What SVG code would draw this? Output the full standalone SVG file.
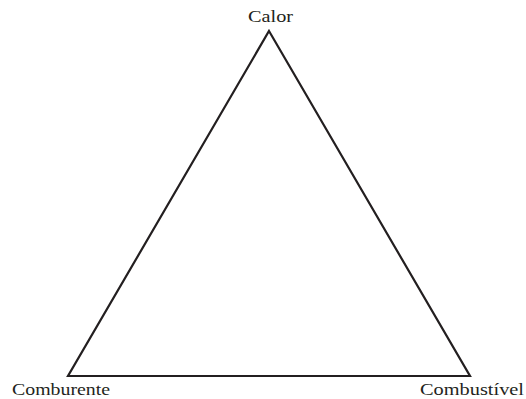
<svg xmlns="http://www.w3.org/2000/svg" width="526" height="399" viewBox="0 0 526 399">
<style>
.lbl{font-family:"Liberation Serif","DejaVu Serif",serif;font-size:16px;fill:#231f20}
.edge{fill:none;stroke:#231f20;stroke-width:2.2;stroke-linejoin:miter}
</style>
<rect width="526" height="399" fill="#fff"/>
<g id="connectors">
<polygon class="edge" points="269,31 470,376 68,376"/>
</g>
<g id="calor"><text class="lbl" x="248" y="22" textLength="45" lengthAdjust="spacingAndGlyphs">Calor</text></g>
<g id="comburente"><text class="lbl" x="12" y="395" textLength="98" lengthAdjust="spacingAndGlyphs">Comburente</text></g>
<g id="combustivel"><text class="lbl" x="420" y="395" textLength="104" lengthAdjust="spacingAndGlyphs">Combustível</text></g>
</svg>
